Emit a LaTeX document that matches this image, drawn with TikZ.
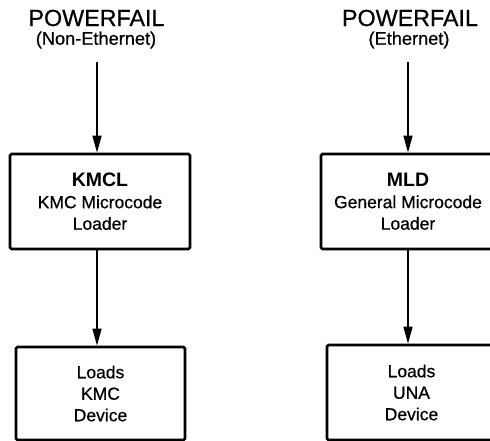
\documentclass[tikz,border=0pt]{standalone}
\usepackage{fontspec}
\setmainfont{Liberation Sans}[UprightFeatures={FakeBold=0.6}]
\usetikzlibrary{arrows.meta}
\tikzset{
  ttl/.style={inner sep=0pt, font=\fontsize{23.3}{28}\selectfont},
  sub/.style={inner sep=0pt, font=\fontsize{18.2}{21}\selectfont},
  boxnode/.style={draw, line width=2.7pt, rounded corners=1.5pt, align=center,
    inner sep=0pt, font=\fontsize{17.5}{21.5}\selectfont},
  arr/.style={line width=1.5pt, -{Triangle[length=17pt,width=9pt]}}
}
\newcommand{\bt}[1]{{\fontsize{19.5}{21.5}\selectfont\bfseries #1}}
\begin{document}
\begin{tikzpicture}[x=1pt,y=-1pt]
\useasboundingbox (0,0) rectangle (490,441);
\clip (0,0) rectangle (490,441);
% left column
\node[ttl] (pf1) at (96.5,18) {POWERFAIL};
\node[sub] (sub1) at (96,40) {(Non-Ethernet)};
\node[boxnode, minimum width=180pt, minimum height=95pt] (box1) at (100,201.5)
  {\bt{KMCL}\\KMC Microcode\\Loader};
\node[boxnode, minimum width=169pt, minimum height=93pt] (box2) at (100.5,393.5)
  {Loads\\KMC\\Device};
\coordinate (a1) at (97,62);
\draw[arr] (a1) -- (a1 |- box1.north);
\draw[arr] (box1.south -| a1) -- (box2.north -| a1);
% right column
\node[ttl] (pf2) at (410,18) {POWERFAIL};
\node[sub] (sub2) at (409,40) {(Ethernet)};
\node[boxnode, minimum width=174pt, minimum height=95pt] (box3) at (408,201.5)
  {\bt{MLD}\\General Microcode\\Loader};
\node[boxnode, minimum width=169pt, minimum height=95pt] (box4) at (411.5,392.5)
  {Loads\\UNA\\Device};
\coordinate (a2) at (408,62);
\draw[arr] (a2) -- (a2 |- box3.north);
\draw[arr] (box3.south -| a2) -- (box4.north -| a2);
\end{tikzpicture}
\end{document}
